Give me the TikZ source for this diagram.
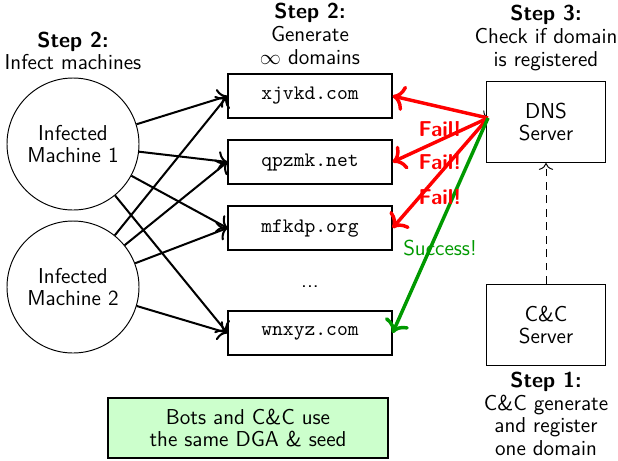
\documentclass[tikz,border=0pt]{standalone}
\usetikzlibrary{arrows.meta}
\begin{document}
\begin{tikzpicture}[x=0.52pt,y=-0.52pt,font=\fontsize{11.2}{11.8}\selectfont\sffamily,
  machine/.style={draw,circle,minimum size=132*0.52pt,inner sep=0pt,align=center,line width=0.5pt},
  dombox/.style={draw,minimum width=164*0.52pt,minimum height=44*0.52pt,inner sep=0pt,font=\fontsize{10.7}{12}\selectfont\ttfamily,line width=0.6pt},
  server/.style={draw,minimum width=119*0.52pt,minimum height=81*0.52pt,align=center,line width=0.6pt},
  infect/.style={-{To[scale=1.25]},line width=1.05pt},
  fail/.style={-{To[scale=1.15]},red,line width=1.8pt},
  ok/.style={-{To[scale=1.15]},green!60!black,line width=1.8pt},
  failtxt/.style={red,font=\fontsize{11.2}{11.8}\selectfont\sffamily\bfseries},
  heading/.style={align=center,inner sep=0pt}]
\useasboundingbox (0,0) rectangle (618,460);
% headings
\node[heading] (h1) at (73,51) {\textbf{Step 2:}\\Infect machines};
\node[heading] (h2) at (310,34) {\textbf{Step 2:}\\Generate\\$\infty$ domains};
\node[heading] (h3) at (546,38) {\textbf{Step 3:}\\Check if domain\\is registered};
\node[heading] (h4) at (546,414) {\textbf{Step 1:}\\C\&C generate\\and register\\one domain};
% machines
\node[machine] (m1) at (73,144) {Infected\\Machine 1};
\node[machine] (m2) at (73,287) {Infected\\Machine 2};
% domains
\node[dombox] (d1) at (310,96) {xjvkd.com};
\node[dombox] (d2) at (310,162) {qpzmk.net};
\node[dombox] (d3) at (310,228) {mfkdp.org};
\node (dots) at (310,287) {...};
\node[dombox] (d4) at (310,333) {wnxyz.com};
% servers
\node[server] (dns) at (546,122) {DNS\\Server};
\node[server] (cc) at (546,325) {C\&C\\Server};
\coordinate (q) at (488,118);
% bottom box
\node[draw,fill=green!20,minimum width=280*0.52pt,minimum height=60*0.52pt,align=center,line width=0.6pt] (note) at (248,428) {Bots and C\&C use\\the same DGA \& seed};
% infection arrows
\foreach \m in {m1,m2}{
  \foreach \d in {d1,d2,d3,d4}{
    \draw[infect] (\m) -- (\d.west);
  }
}
% dns arrows
\draw[-{To[scale=1.2]},line width=0.5pt] (d1.east) -- (q);
\draw[fail] (q) -- (d1.east);
\draw[fail] (q) -- (d2.east);
\draw[fail] (q) -- (d3.east);
\draw[ok] (q) -- (d4.east);
\node[failtxt] (f1) at (440,129) {Fail!};
\node[failtxt] (f2) at (440,162) {Fail!};
\node[failtxt] (f3) at (440,197) {Fail!};
\node[green!60!black] (s) at (440,248) {Success!};
% dashed
\draw[-{To[scale=1.3]},dash pattern=on 4pt off 3pt,line width=0.5pt] (cc.north) -- (dns.south);
\end{tikzpicture}
\end{document}
